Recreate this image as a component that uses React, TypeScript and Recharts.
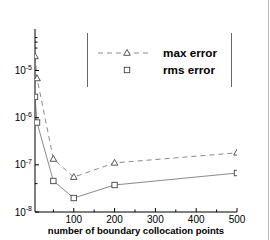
import React from 'react';
import { LineChart, Line, XAxis, YAxis } from 'recharts';

const nPoints = [5, 10, 50, 100, 200, 500];
const maxError = [2.0e-5, 6.8e-6, 1.33e-7, 5.5e-8, 1.1e-7, 1.8e-7];
const rmsError = [2.76e-6, 7.9e-7, 4.55e-8, 1.98e-8, 3.74e-8, 6.7e-8];
const xMajorTicks = [100, 200, 300, 400, 500];
const xMinorTicks = [50, 150, 250, 350, 450];
const yMajorTicks = [1e-8, 1e-7, 1e-6, 1e-5];
const yMinorTicks = [4e-8, 3e-5, 4e-5, 5e-5];
const seriesLabels = ['max error', 'rms error'];
const xTitle = 'number of boundary collocation points';

const data = nPoints.map((n, i) => ({ n, max: maxError[i], rms: rmsError[i] }));

const FONT = '"Liberation Sans", Arial, Helvetica, sans-serif';
const MARK = '#444';
const LINE = '#8a8a8a';

const triPath = (cx: number, cy: number) =>
  `M${cx},${cy - 3.5} L${cx + 3.3},${cy + 2.3} L${cx - 3.3},${cy + 2.3} Z`;

const TriDot = (props: any) => {
  const { cx, cy, index } = props;
  return <path key={`t${index}`} d={triPath(cx, cy)} fill="#fff" stroke={MARK} strokeWidth={0.9} />;
};
const SqDot = (props: any) => {
  const { cx, cy, index } = props;
  return <rect key={`s${index}`} x={cx - 2.7} y={cy - 2.7} width={5.4} height={5.4} fill="#fff" stroke={MARK} strokeWidth={0.9} />;
};

const XTick = (props: any) => {
  const { x, y, payload } = props;
  const major = xMajorTicks.includes(payload.value);
  return (
    <g>
      <line x1={x} x2={x} y1={y} y2={y - (major ? 4 : 2.5)} stroke="#000" strokeWidth={1} />
      {major && (
        <text x={x} y={y + 10.8} textAnchor="middle" fontSize={10} fontFamily={FONT} fill="#000">
          {payload.value}
        </text>
      )}
    </g>
  );
};

const YTick = (props: any) => {
  const { x, y, payload } = props;
  const v = payload.value;
  const major = yMajorTicks.some((t) => Math.abs(Math.log10(t) - Math.log10(v)) < 1e-6);
  const exp = Math.round(Math.log10(v));
  return (
    <g>
      <line x1={x} x2={x + (major ? 4 : 2.5)} y1={y} y2={y} stroke="#000" strokeWidth={1} />
      {major && (
        <text x={x - 3} y={y + 3.5} textAnchor="end" fontSize={10} fontFamily={FONT} fill="#000">
          10
          <tspan dy={-4.5} fontSize={7}>{String(exp)}</tspan>
        </text>
      )}
    </g>
  );
};

export default function App() {
  return (
    <div style={{ position: 'absolute', left: 0, top: 0, width: 270, height: 240, background: '#fff' }}>
      <LineChart width={270} height={240} data={data} margin={{ top: 29, right: 33, bottom: 0, left: 0 }}>
        <XAxis
          dataKey="n"
          type="number"
          domain={[5, 500]}
          allowDataOverflow
          ticks={[...xMinorTicks, ...xMajorTicks].sort((a, b) => a - b)}
          interval={0}
          tickSize={0}
          tickMargin={0}
          tickLine={false}
          tick={<XTick />}
          height={28}
          axisLine={{ stroke: '#000', strokeWidth: 1 }}
        />
        <YAxis
          type="number"
          scale="log"
          domain={[1e-8, 7.6e-5]}
          allowDataOverflow
          ticks={[...yMajorTicks, ...yMinorTicks].sort((a, b) => a - b)}
          interval={0}
          tickSize={0}
          tickMargin={0}
          tickLine={false}
          tick={<YTick />}
          width={35}
          axisLine={{ stroke: '#555', strokeWidth: 1.5 }}
        />
        <Line
          dataKey="max"
          stroke={LINE}
          strokeWidth={1}
          strokeDasharray="5 4"
          dot={TriDot}
          activeDot={false}
          isAnimationActive={false}
        />
        <Line
          dataKey="rms"
          stroke={LINE}
          strokeWidth={1}
          dot={SqDot}
          activeDot={false}
          isAnimationActive={false}
        />
      </LineChart>
      <svg width={270} height={240} style={{ position: 'absolute', left: 0, top: 0, pointerEvents: 'none' }}>
        <line x1={87.5} x2={87.5} y1={33} y2={87} stroke="#666" strokeWidth={1} />
        <line x1={231.5} x2={231.5} y1={33} y2={87} stroke="#666" strokeWidth={1} />
        <line x1={98} x2={152} y1={53} y2={53} stroke={LINE} strokeDasharray="5 4" />
        <path d={triPath(127, 53)} fill="#fff" stroke={MARK} strokeWidth={0.9} />
        <rect x={127 - 2.7} y={70 - 2.7} width={5.4} height={5.4} fill="#fff" stroke={MARK} strokeWidth={0.9} />
        <text x={163} y={57} fontSize={11.7} fontWeight="bold" fontFamily={FONT} fill="#000">{seriesLabels[0]}</text>
        <text x={163} y={74} fontSize={11.7} fontWeight="bold" fontFamily={FONT} fill="#000">{seriesLabels[1]}</text>
        <text x={136} y={234.3} textAnchor="middle" fontSize={9.5} fontWeight="bold" fontFamily={FONT} fill="#000">{xTitle}</text>
        <line x1={268.5} x2={268.5} y1={0} y2={240} stroke="#bbb" strokeWidth={1} />
      </svg>
    </div>
  );
}
